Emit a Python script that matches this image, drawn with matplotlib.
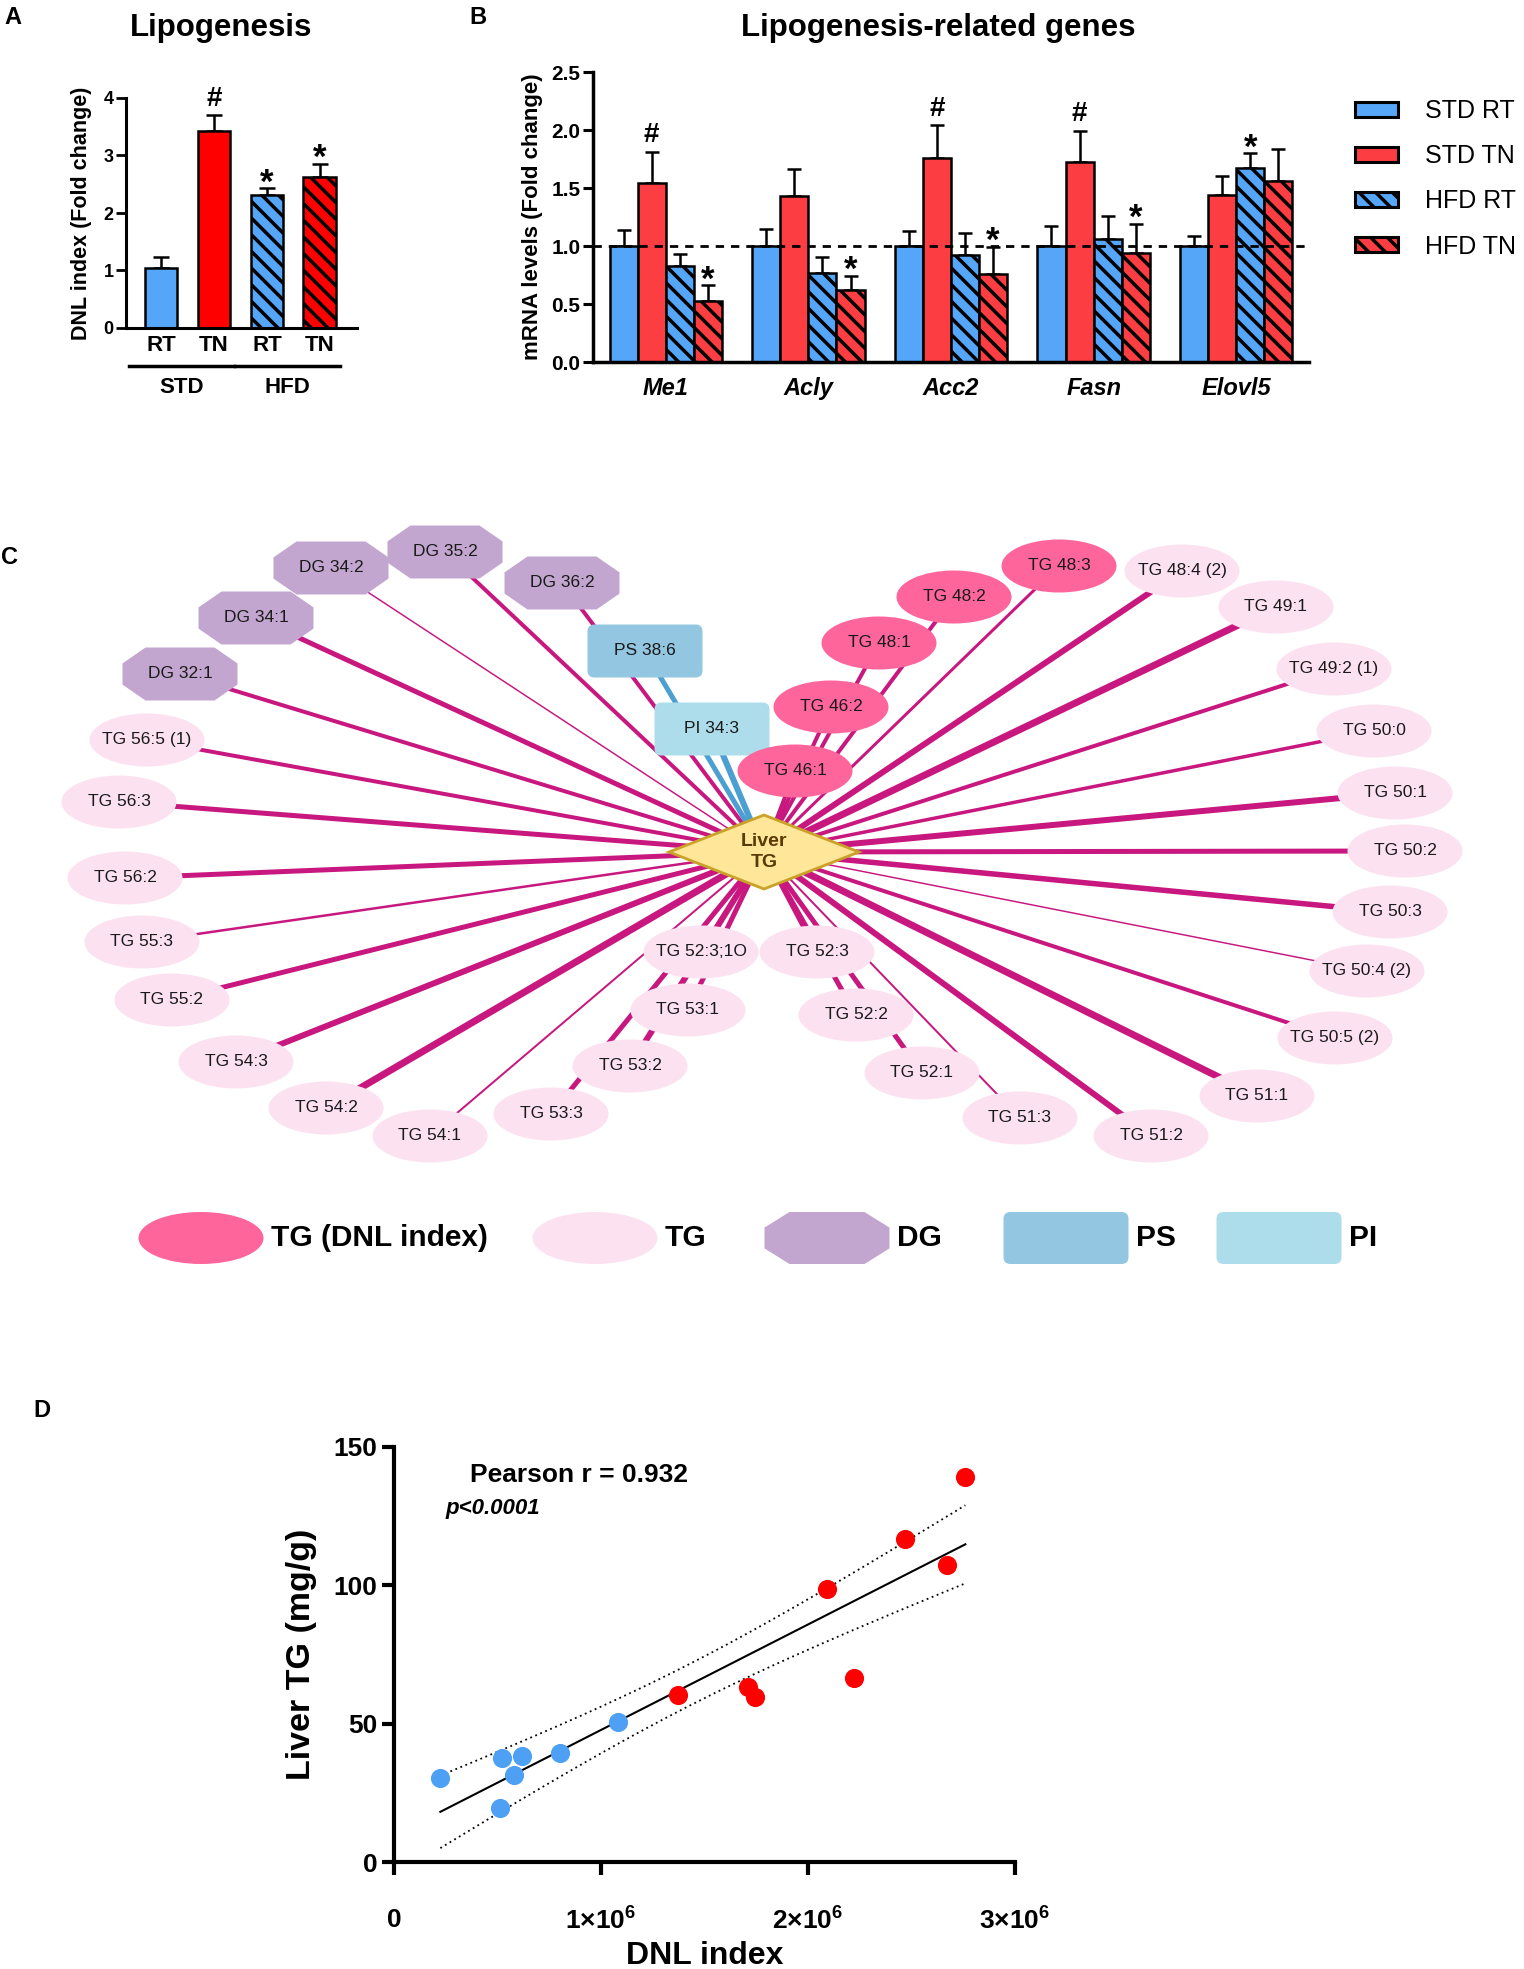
import numpy as np
import matplotlib
matplotlib.use('Agg')
import matplotlib.pyplot as plt
from matplotlib.patches import Ellipse, Polygon, FancyBboxPatch, Patch

plt.rcParams['font.family'] = ['Liberation Sans', 'DejaVu Sans']
plt.rcParams['mathtext.fontset'] = 'custom'
plt.rcParams['mathtext.rm'] = 'Liberation Sans'
plt.rcParams['mathtext.bf'] = 'Liberation Sans:bold'
plt.rcParams['hatch.linewidth'] = 2.5

# ---------------- panel A: DNL index
cond_a = ['RT', 'TN', 'RT', 'TN']
diet_a = ['STD', 'HFD']
dnl_mean = [1.05, 3.43, 2.32, 2.62]
dnl_sem = [0.19, 0.27, 0.11, 0.23]
dnl_sig = ['', '#', '*', '*']

# ---------------- panel B: lipogenesis genes
genes = ['Me1', 'Acly', 'Acc2', 'Fasn', 'Elovl5']
series_b = ['STD RT', 'STD TN', 'HFD RT', 'HFD TN']
std_rt = [1.0, 1.0, 1.0, 1.0, 1.0]
std_tn = [1.54, 1.43, 1.76, 1.72, 1.44]
hfd_rt = [0.83, 0.77, 0.92, 1.06, 1.67]
hfd_tn = [0.53, 0.62, 0.76, 0.94, 1.56]
std_rt_err = [0.14, 0.15, 0.13, 0.17, 0.09]
std_tn_err = [0.27, 0.23, 0.28, 0.27, 0.16]
hfd_rt_err = [0.10, 0.135, 0.19, 0.20, 0.13]
hfd_tn_err = [0.13, 0.125, 0.23, 0.25, 0.28]
std_rt_sig = ['', '', '', '', '']
std_tn_sig = ['#', '', '#', '#', '']
hfd_rt_sig = ['', '', '', '', '*']
hfd_tn_sig = ['*', '*', '*', '*', '']

# ---------------- panel C: correlation network with liver TG
node_names = ['DG 32:1', 'DG 34:1', 'DG 34:2', 'DG 35:2', 'DG 36:2',
              'PS 38:6', 'PI 34:3',
              'TG 46:1', 'TG 46:2', 'TG 48:1', 'TG 48:2', 'TG 48:3',
              'TG 48:4 (2)', 'TG 49:1', 'TG 49:2 (1)', 'TG 50:0', 'TG 50:1',
              'TG 50:2', 'TG 50:3', 'TG 50:4 (2)', 'TG 50:5 (2)', 'TG 51:1',
              'TG 51:2', 'TG 51:3', 'TG 52:1', 'TG 52:2', 'TG 52:3',
              'TG 52:3;1O', 'TG 53:1', 'TG 53:2', 'TG 53:3', 'TG 54:1',
              'TG 54:2', 'TG 54:3', 'TG 55:2', 'TG 55:3', 'TG 56:2',
              'TG 56:3', 'TG 56:5 (1)']
node_kind = ['DG'] * 5 + ['PS', 'PI'] + ['DNL'] * 5 + ['TG'] * 27
edge_weight = [4, 5, 1.5, 4, 4,
               5, 6,
               4, 4, 4, 4, 3,
               6, 7, 4, 3.5, 6,
               5, 5.5, 1.5, 4, 7,
               6, 2, 5, 5, 5,
               5, 5, 6, 5, 2,
               7, 6, 5, 2.5, 5,
               5, 4]
legend_c = ['TG (DNL index)', 'TG', 'DG', 'PS', 'PI']
legend_kind = ['DNL', 'TG', 'DG', 'PS', 'PI']

# ---------------- panel D: DNL index vs liver TG
dnl_rt = [0.224e6, 0.52e6, 0.62e6, 0.58e6, 0.51e6, 0.80e6, 1.08e6]
tg_rt = [30.3, 37.5, 38.4, 31.6, 19.4, 39.3, 50.6]
dnl_tn = [1.37e6, 1.71e6, 1.745e6, 2.09e6, 2.22e6, 2.47e6, 2.67e6, 2.76e6]
tg_tn = [60.5, 63.3, 59.6, 98.5, 66.4, 116.6, 107.5, 139.2]
pearson_txt = 'Pearson r = 0.932'
p_txt = 'p<0.0001'

# layout of the network (pixel positions on the figure)
hub_xy = (764, 852)
node_xy = [(180, 674), (256, 618), (331, 568), (445, 552), (562, 583),
           (645, 651), (712, 729),
           (795, 771), (831, 707), (879, 643), (954, 597), (1059, 566),
           (1182, 571), (1276, 607), (1334, 669), (1374, 731), (1395, 793),
           (1405, 851), (1390, 912), (1367, 971), (1335, 1038), (1257, 1096),
           (1151, 1136), (1020, 1118), (922, 1073), (856, 1015), (817, 952),
           (701, 952), (688, 1010), (630, 1066), (551, 1114), (430, 1136),
           (326, 1108), (236, 1062), (172, 1000), (142, 942), (125, 878),
           (119, 802), (147, 740)]

W, H = 1524, 1969
BLUE = '#55A5F8'
RED_A = '#FF0000'
RED_B = '#FC3D42'
HATCH = '\\\\'
kind_color = {'DNL': '#FE659B', 'TG': '#FCE1F0', 'DG': '#C3A6D0',
              'PS': '#93C6E1', 'PI': '#ADDCEB'}


def fig_rect(left, top, right, bottom):
    return [left / W, 1 - bottom / H, (right - left) / W, (bottom - top) / H]


def sig_mark(ax, x, y, mark):
    if not mark:
        return
    if mark == '#':
        ax.annotate(mark, (x, y), xytext=(0, 7), textcoords='offset points',
                    ha='center', va='baseline', fontsize=20, fontweight='bold')
    else:
        ax.annotate(mark, (x, y), xytext=(0, -3), textcoords='offset points',
                    ha='center', va='baseline', fontsize=25, fontweight='bold')


fig = plt.figure(figsize=(W / 100, H / 100), dpi=100)

# ======================= A
ax_a = fig.add_axes(fig_rect(126, 98, 357, 328))
xa = np.arange(len(dnl_mean))
cols_a = [BLUE, RED_A, BLUE, RED_A]
hat_a = [None, None, HATCH, HATCH]
for i in xa:
    ax_a.bar(xa[i], dnl_mean[i], width=0.62, color=cols_a[i], edgecolor='black',
             linewidth=1.8, hatch=hat_a[i], zorder=2)
ax_a.errorbar(xa, dnl_mean, yerr=[np.zeros(4), dnl_sem], fmt='none', ecolor='black',
              elinewidth=1.8, capsize=6, capthick=1.8, zorder=1)
for i in xa:
    sig_mark(ax_a, xa[i], dnl_mean[i] + dnl_sem[i], dnl_sig[i])
ax_a.set_xlim(-0.66, 3.70)
ax_a.set_ylim(0, 4)
ax_a.set_yticks([0, 1, 2, 3, 4])
ax_a.set_xticks(xa)
ax_a.set_xticklabels(cond_a, fontsize=16, fontweight='bold')
ax_a.tick_params(axis='x', length=0, pad=5)
ax_a.tick_params(axis='y', length=7, width=2, labelsize=13, pad=2)
for t in ax_a.get_yticklabels():
    t.set_fontweight('bold')
for s in ['top', 'right']:
    ax_a.spines[s].set_visible(False)
for s in ['left', 'bottom']:
    ax_a.spines[s].set_linewidth(2.2)
ax_a.set_ylabel('DNL index (Fold change)', fontsize=15.5, fontweight='bold', labelpad=8)
for g, name in enumerate(diet_a):
    c = 2 * g + 0.5 - 0.12
    ax_a.plot([c - 0.99, c + 0.99], [-0.165, -0.165], color='black', lw=2.5,
              transform=ax_a.get_xaxis_transform(), clip_on=False)
    ax_a.text(c, -0.26, name, transform=ax_a.get_xaxis_transform(), ha='center',
              va='center', fontsize=16, fontweight='bold')
fig.text(221 / W, 1 - 28 / H, 'Lipogenesis', ha='center', va='center',
         fontsize=22.5, fontweight='bold')

# ======================= B
ax_b = fig.add_axes(fig_rect(593, 72, 1309, 362))
means_b = [std_rt, std_tn, hfd_rt, hfd_tn]
errs_b = [std_rt_err, std_tn_err, hfd_rt_err, hfd_tn_err]
sigs_b = [std_rt_sig, std_tn_sig, hfd_rt_sig, hfd_tn_sig]
cols_b = [BLUE, RED_B, BLUE, RED_B]
hat_b = [None, None, HATCH, HATCH]
xg = np.arange(len(genes))
bw = 0.197
for k in range(4):
    xs = xg + (k - 1.5) * bw
    ax_b.bar(xs, means_b[k], width=bw, color=cols_b[k], edgecolor='black',
             linewidth=1.8, hatch=hat_b[k], zorder=2, label=series_b[k])
    ax_b.errorbar(xs, means_b[k], yerr=[np.zeros(len(genes)), errs_b[k]], fmt='none',
                  ecolor='black', elinewidth=1.8, capsize=5, capthick=1.8, zorder=1)
    for j in range(len(genes)):
        sig_mark(ax_b, xs[j], means_b[k][j] + errs_b[k][j], sigs_b[k][j])
ax_b.axhline(1.0, color='black', lw=2, ls=(0, (3, 2.5)), zorder=3)
ax_b.set_xlim(-0.51, 4.51)
ax_b.set_ylim(0, 2.5)
ax_b.set_yticks(np.arange(0, 2.51, 0.5))
ax_b.set_yticklabels(['%.1f' % v for v in np.arange(0, 2.51, 0.5)], fontweight='bold')
ax_b.set_xticks(xg)
ax_b.set_xticklabels(genes, fontsize=17, fontweight='bold', style='italic')
ax_b.tick_params(axis='x', length=0, pad=11)
ax_b.tick_params(axis='y', length=7, width=2.2, labelsize=15, pad=2)
for s in ['top', 'right']:
    ax_b.spines[s].set_visible(False)
for s in ['left', 'bottom']:
    ax_b.spines[s].set_linewidth(2.5)
ax_b.set_ylabel('mRNA levels (Fold change)', fontsize=16, fontweight='bold', labelpad=6)
fig.text(938 / W, 1 - 28 / H, 'Lipogenesis-related genes', ha='center', va='center',
         fontsize=22.5, fontweight='bold')
handles = [Patch(facecolor=cols_b[k], edgecolor='black', linewidth=2.2, hatch=hat_b[k])
           for k in range(4)]
ax_b.legend(handles, series_b, loc='upper left', bbox_to_anchor=(1355 / W, 1 - 99 / H),
            bbox_transform=fig.transFigure, frameon=False, fontsize=18,
            handlelength=1.7, handleheight=0.55, labelspacing=0.85,
            handletextpad=1.1, borderpad=0, borderaxespad=0)

# ======================= C
ax_c = fig.add_axes(fig_rect(0, 520, W, 1300))
ax_c.set_xlim(0, W)
ax_c.set_ylim(1300, 520)
ax_c.axis('off')


def draw_node(ax, kind, x, y, w=115, h=53):
    col = kind_color[kind]
    if kind in ('TG', 'DNL'):
        p = Ellipse((x, y), w, h, facecolor=col, edgecolor='none', zorder=3)
    elif kind == 'DG':
        cx, cy = 0.2 * w, 0.3 * h
        pts = [(x - w / 2 + cx, y - h / 2), (x + w / 2 - cx, y - h / 2),
               (x + w / 2, y - h / 2 + cy), (x + w / 2, y + h / 2 - cy),
               (x + w / 2 - cx, y + h / 2), (x - w / 2 + cx, y + h / 2),
               (x - w / 2, y + h / 2 - cy), (x - w / 2, y - h / 2 + cy)]
        p = Polygon(pts, closed=True, facecolor=col, edgecolor='none', zorder=3)
    else:
        p = FancyBboxPatch((x - w / 2, y - h / 2), w, h,
                           boxstyle='round,pad=0,rounding_size=7',
                           facecolor=col, edgecolor='none', zorder=3)
    ax.add_patch(p)


for name, kind, (x, y), wt in zip(node_names, node_kind, node_xy, edge_weight):
    ecol = '#4C9FD1' if kind in ('PS', 'PI') else '#C8187F'
    ax_c.plot([x, hub_xy[0]], [y, hub_xy[1]], color=ecol, lw=wt * 0.72,
              solid_capstyle='butt', zorder=1 if kind not in ('PS', 'PI') else 1.5)
    draw_node(ax_c, kind, x, y)
    ax_c.text(x, y, name, ha='center', va='center', fontsize=12.5, color='#1a1a1a',
              zorder=4)

hx, hy = hub_xy
ax_c.add_patch(Polygon([(hx - 95, hy), (hx, hy - 37), (hx + 95, hy), (hx, hy + 37)],
                       closed=True, facecolor='#FFE699', edgecolor='#C9A227', lw=2, zorder=5))
ax_c.text(hx, hy, 'Liver\nTG', ha='center', va='center', fontsize=14, fontweight='bold',
          color='#5B3A06', linespacing=1.35, zorder=6)

leg_x = [201, 595, 827, 1066, 1279]
for lab, kind, lx in zip(legend_c, legend_kind, leg_x):
    draw_node(ax_c, kind, lx, 1238, w=125, h=52)
    ax_c.text(lx + 70, 1238, lab, ha='left', va='center', fontsize=21.5, fontweight='bold')

# ======================= D
ax_d = fig.add_axes(fig_rect(394, 1447, 1015, 1862))
ax_d.scatter(dnl_rt, tg_rt, s=190, color='#4DA0F3', zorder=3, linewidths=0)
ax_d.scatter(dnl_tn, tg_tn, s=190, color='#FF0000', zorder=3, linewidths=0)
xall = np.array(dnl_rt + dnl_tn)
yall = np.array(tg_rt + tg_tn)
slope, icpt = np.polyfit(xall, yall, 1)
n = len(xall)
resid = yall - (slope * xall + icpt)
s_err = np.sqrt(np.sum(resid ** 2) / (n - 2))
sxx = np.sum((xall - xall.mean()) ** 2)
xf = np.linspace(xall.min(), xall.max(), 100)
yf = slope * xf + icpt
band = 2.160 * s_err * np.sqrt(1 / n + (xf - xall.mean()) ** 2 / sxx)
ax_d.plot(xf, yf, color='black', lw=1.5, zorder=2)
ax_d.plot(xf, yf + band, color='black', lw=1.3, ls=(0, (1, 2)), zorder=2)
ax_d.plot(xf, yf - band, color='black', lw=1.3, ls=(0, (1, 2)), zorder=2)
ax_d.set_xlim(0, 3e6)
ax_d.set_ylim(0, 150)
ax_d.set_xticks([0, 1e6, 2e6, 3e6])
ax_d.set_xticklabels(['0', r'$\mathbf{1{\times}10^{6}}$', r'$\mathbf{2{\times}10^{6}}$',
                      r'$\mathbf{3{\times}10^{6}}$'])
ax_d.set_yticks([0, 50, 100, 150])
ax_d.tick_params(axis='both', length=9, width=3, labelsize=19)
ax_d.tick_params(axis='x', pad=24)
ax_d.tick_params(axis='y', pad=3)
for t in ax_d.get_xticklabels() + ax_d.get_yticklabels():
    t.set_fontweight('bold')
for s in ['top', 'right']:
    ax_d.spines[s].set_visible(False)
for s in ['left', 'bottom']:
    ax_d.spines[s].set_linewidth(3)
ax_d.set_ylabel('Liver TG (mg/g)', fontsize=24.5, fontweight='bold', labelpad=12)
ax_d.set_xlabel('DNL index', fontsize=23, fontweight='bold', labelpad=4)
fig.text(470 / W, 1 - 1475 / H, pearson_txt, ha='left', va='center',
         fontsize=19, fontweight='bold')
fig.text(445 / W, 1 - 1508 / H, p_txt, ha='left', va='center', fontsize=16,
         fontweight='bold', style='italic')

# panel letters
for lab, px, py in [('A', 13, 17), ('B', 478, 17), ('C', 10, 557), ('D', 42, 1410)]:
    fig.text(px / W, 1 - py / H, lab, ha='center', va='center', fontsize=17,
             fontweight='bold')

fig.savefig('out.png', dpi=100)
